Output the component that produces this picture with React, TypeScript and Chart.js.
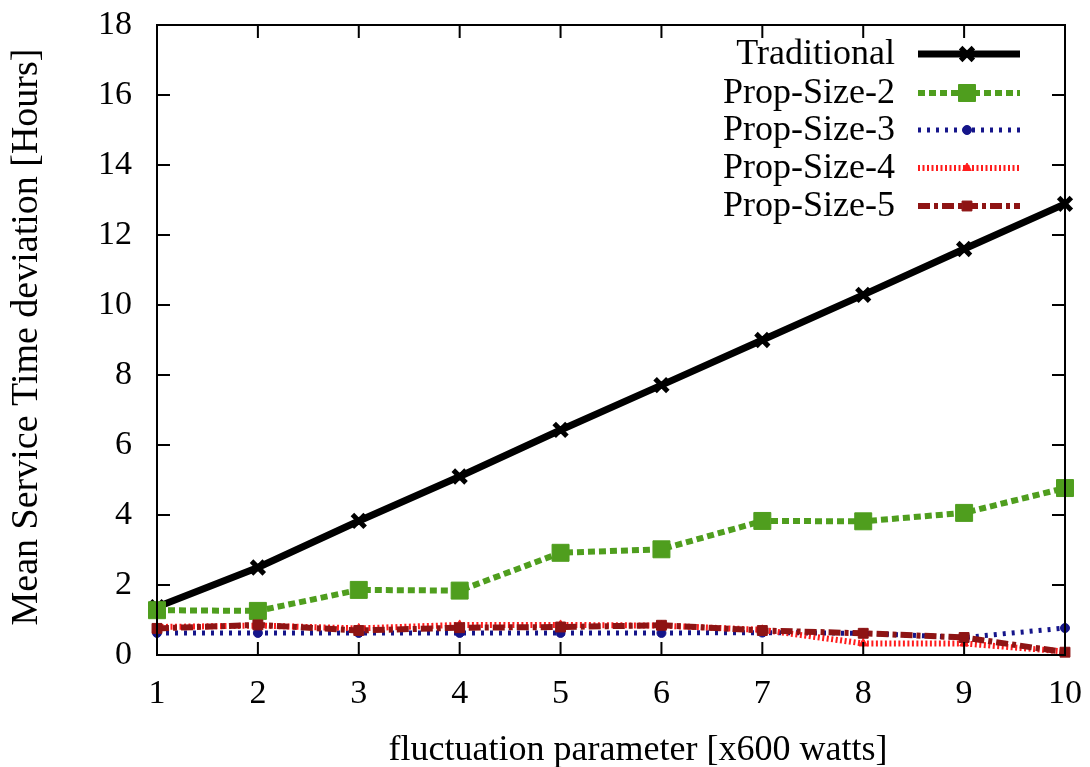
import React, { useEffect, useRef } from "react";
import { Chart, registerables } from "chart.js";

Chart.register(...registerables);

const xValues = [1, 2, 3, 4, 5, 6, 7, 8, 9, 10];
const traditional = [1.37, 2.5, 3.83, 5.1, 6.43, 7.71, 9.0, 10.29, 11.6, 12.89];
const propSize2 = [1.28, 1.26, 1.86, 1.84, 2.92, 3.02, 3.83, 3.82, 4.06, 4.77];
const propSize3 = [0.63, 0.63, 0.63, 0.63, 0.63, 0.63, 0.64, 0.62, 0.5, 0.77];
const propSize4 = [0.8, 0.84, 0.76, 0.86, 0.86, 0.84, 0.72, 0.33, 0.33, 0.1];
const propSize5 = [0.76, 0.86, 0.7, 0.78, 0.8, 0.85, 0.7, 0.62, 0.5, 0.08];
const yTicks = [0, 2, 4, 6, 8, 10, 12, 14, 16, 18];
const seriesNames = ["Traditional", "Prop-Size-2", "Prop-Size-3", "Prop-Size-4", "Prop-Size-5"];
const xTitle = "fluctuation parameter [x600 watts]";
const yTitle = "Mean Service Time deviation [Hours]";

const FONT = "'Liberation Serif', 'DejaVu Serif', serif";

const styles = [
  { color: "#000000", width: 7, dash: [] as number[], point: "crossRot", radius: 9, pbw: 5 },
  { color: "#4f9e1e", width: 6, dash: [7, 4], point: "rect", radius: 12, pbw: 1 },
  { color: "#15158a", width: 5, dash: [3, 6], point: "circle", radius: 4.5, pbw: 1 },
  { color: "#ff1c1c", width: 6, dash: [2, 2.5], point: "triangle", radius: 5, pbw: 1 },
  { color: "#8e1414", width: 6, dash: [12, 4, 4, 4], point: "rect", radius: 7, pbw: 1 },
];

function drawMarker(ctx: CanvasRenderingContext2D, s: any, x: number, y: number) {
  const r = s.radius;
  ctx.save();
  ctx.fillStyle = s.color;
  ctx.strokeStyle = s.color;
  ctx.lineWidth = s.pbw;
  ctx.setLineDash([]);
  ctx.beginPath();
  if (s.point === "crossRot") {
    const d = r * Math.SQRT1_2;
    ctx.moveTo(x - d, y - d);
    ctx.lineTo(x + d, y + d);
    ctx.moveTo(x - d, y + d);
    ctx.lineTo(x + d, y - d);
    ctx.stroke();
  } else if (s.point === "rect") {
    const h = r * Math.SQRT1_2;
    ctx.rect(x - h, y - h, 2 * h, 2 * h);
    ctx.fill();
    ctx.stroke();
  } else if (s.point === "circle") {
    ctx.arc(x, y, r, 0, Math.PI * 2);
    ctx.fill();
    ctx.stroke();
  } else if (s.point === "triangle") {
    ctx.moveTo(x, y - r);
    ctx.lineTo(x + r * 0.866, y + r * 0.5);
    ctx.lineTo(x - r * 0.866, y + r * 0.5);
    ctx.closePath();
    ctx.fill();
    ctx.stroke();
  }
  ctx.restore();
}

const framePlugin = {
  id: "frame",
  afterDatasetsDraw(chart: any) {
    const { ctx, chartArea: a, scales } = chart;
    ctx.save();
    ctx.strokeStyle = "#000";
    ctx.lineWidth = 2;
    ctx.setLineDash([]);
    ctx.strokeRect(a.left, a.top, a.right - a.left, a.bottom - a.top);
    const tl = 13;
    for (const v of yTicks) {
      const y = scales.y.getPixelForValue(v);
      ctx.beginPath();
      ctx.moveTo(a.left, y);
      ctx.lineTo(a.left + tl, y);
      ctx.moveTo(a.right, y);
      ctx.lineTo(a.right - tl, y);
      ctx.stroke();
    }
    for (const v of xValues) {
      const x = scales.x.getPixelForValue(v);
      ctx.beginPath();
      ctx.moveTo(x, a.bottom);
      ctx.lineTo(x, a.bottom - tl);
      ctx.moveTo(x, a.top);
      ctx.lineTo(x, a.top + tl);
      ctx.stroke();
    }
    // axis titles
    ctx.fillStyle = "#000";
    ctx.font = `36px ${FONT}`;
    ctx.textAlign = "center";
    ctx.textBaseline = "middle";
    ctx.fillText(xTitle, 638, 751);
    ctx.save();
    ctx.translate(27, 337);
    ctx.rotate(-Math.PI / 2);
    ctx.font = `38px ${FONT}`;
    ctx.fillText(yTitle, 0, 0);
    ctx.restore();
    // legend
    const rowY = [54, 93, 130, 168, 206];
    ctx.font = `36px ${FONT}`;
    ctx.textAlign = "right";
    ctx.textBaseline = "middle";
    chart.data.datasets.forEach((ds: any, i: number) => {
      const s = styles[i];
      const y = rowY[i];
      ctx.fillStyle = "#000";
      ctx.fillText(ds.label, 895, y + 1);
      ctx.beginPath();
      ctx.strokeStyle = s.color;
      ctx.lineWidth = s.width;
      ctx.setLineDash(s.dash);
      ctx.moveTo(918, y);
      ctx.lineTo(1020, y);
      ctx.stroke();
      ctx.setLineDash([]);
      drawMarker(ctx, s, 967, y);
    });
    ctx.restore();
  },
};

export default function App() {
  const ref = useRef<HTMLCanvasElement>(null);
  useEffect(() => {
    if (!ref.current) return;
    const allData = [traditional, propSize2, propSize3, propSize4, propSize5];
    const chart = new Chart(ref.current, {
      type: "line",
      data: {
        datasets: allData.map((vals, i) => ({
          label: seriesNames[i],
          data: vals.map((v, j) => ({ x: xValues[j], y: v })),
          borderColor: styles[i].color,
          backgroundColor: styles[i].color,
          borderWidth: styles[i].width,
          borderDash: styles[i].dash,
          pointStyle: styles[i].point as any,
          pointRadius: styles[i].radius,
          pointBorderWidth: styles[i].pbw,
          pointBorderColor: styles[i].color,
          pointBackgroundColor: styles[i].color,
          tension: 0,
          fill: false,
          clip: false as any,
          order: 5 - i,
        })),
      },
      options: {
        animation: false,
        responsive: false,
        layout: { padding: { top: 25, right: 25, left: 0, bottom: 0 } },
        plugins: { legend: { display: false }, tooltip: { enabled: false } },
        scales: {
          x: {
            type: "linear",
            min: 1,
            max: 10,
            grid: { display: false, drawTicks: false },
            border: { display: false },
            afterBuildTicks: (s: any) => {
              s.ticks = xValues.map((v) => ({ value: v }));
            },
            afterFit: (s: any) => {
              s.height = 112;
              s.paddingLeft = 0;
              s.paddingRight = 0;
            },
            ticks: { color: "#000", font: { family: FONT, size: 34 }, padding: 19, maxRotation: 0, autoSkip: false },
            title: { display: false },
          },
          y: {
            type: "linear",
            min: 0,
            max: 18,
            grid: { display: false, drawTicks: false },
            border: { display: false },
            afterBuildTicks: (s: any) => {
              s.ticks = yTicks.map((v) => ({ value: v }));
            },
            afterFit: (s: any) => {
              s.width = 157;
              s.paddingTop = 0;
              s.paddingBottom = 0;
            },
            ticks: { color: "#000", font: { family: FONT, size: 34 }, padding: 25, autoSkip: false },
            title: { display: false },
          },
        },
      },
      plugins: [framePlugin],
    });
    return () => chart.destroy();
  }, []);
  return (
    <div style={{ position: "fixed", left: 0, top: 0, width: 1090, height: 767, background: "#fff" }}>
      <canvas ref={ref} width={1090} height={767} style={{ display: "block" }} />
    </div>
  );
}
